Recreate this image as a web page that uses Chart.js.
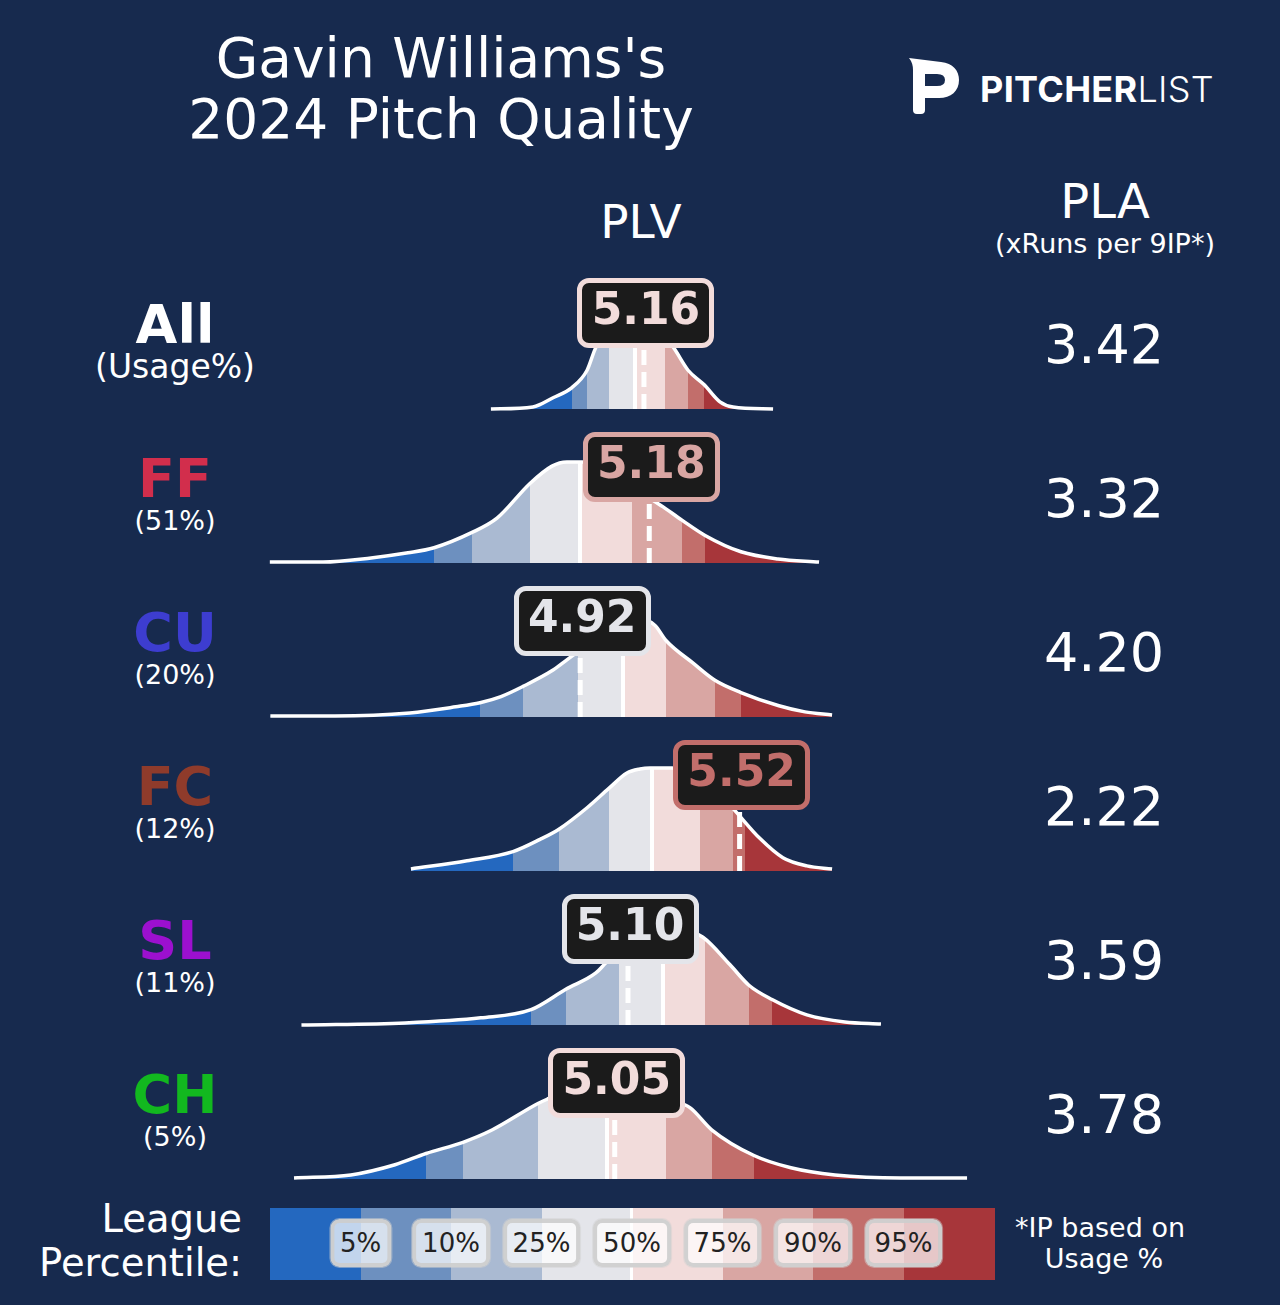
<!DOCTYPE html>
<html><head><meta charset="utf-8">
<script src="https://cdn.jsdelivr.net/npm/chart.js@4.4.1/dist/chart.umd.min.js"></script>
<style>
html,body{margin:0;padding:0;background:#172a4e;}
#root{position:relative;width:1280px;height:1305px;background:#172a4e;overflow:hidden;font-family:"DejaVu Sans",sans-serif;color:#fff;}
.t{position:absolute;white-space:nowrap;}
canvas{position:absolute;}
.box{position:absolute;box-sizing:border-box;width:137px;height:70px;border:5px solid;border-radius:12px;background:#1b1b1b;font-weight:bold;font-size:44px;line-height:52px;text-align:center;font-family:"DejaVu Sans",sans-serif;}
.lg{position:absolute;box-sizing:border-box;height:48px;border:4px solid rgba(205,205,205,0.92);border-radius:9px;background:rgba(255,255,255,0.72);color:#222;font-size:26px;line-height:40px;padding:0 6px;white-space:nowrap;box-shadow:0 0 0 1px rgba(210,210,210,0.5);}
</style></head><body><div id="root"></div>
<script>
// ---------------- data ----------------
const pitchNames = ["All","FF","CU","FC","SL","CH"];
const usageLabels = ["(Usage%)","(51%)","(20%)","(12%)","(11%)","(5%)"];
const plvValues = [5.16, 5.18, 4.92, 5.52, 5.10, 5.05];
const plaValues = ["3.42","3.32","4.20","2.22","3.59","3.78"];
const percentileLabels = ["5%","10%","25%","50%","75%","90%","95%"];

// density curves (PLV value, relative density)
const allX = [4.584,4.742,4.818,4.889,4.946,4.975,5.013,5.051,5.100,5.145,5.190,5.232,5.277,5.326,5.386,5.446,5.495,5.646];
const allY = [0.00,0.02,0.11,0.21,0.38,0.58,0.78,0.91,0.98,0.98,0.90,0.75,0.58,0.38,0.24,0.07,0.02,0.00];
const ffX = [3.752,3.952,4.133,4.272,4.370,4.513,4.607,4.731,4.814,4.870,4.927,4.994,5.070,5.145,5.232,5.303,5.390,5.525,5.664,5.819];
const ffY = [0.01,0.01,0.05,0.10,0.15,0.30,0.44,0.78,0.95,0.99,0.99,0.96,0.85,0.70,0.55,0.42,0.27,0.11,0.04,0.01];
const cuX = [3.754,3.997,4.279,4.452,4.543,4.622,4.705,4.818,4.870,4.938,5.013,5.089,5.145,5.201,5.243,5.344,5.427,5.525,5.668,5.766,5.868];
const cuY = [0.01,0.01,0.04,0.10,0.14,0.20,0.30,0.46,0.56,0.69,0.83,0.95,0.96,0.90,0.75,0.53,0.36,0.24,0.11,0.05,0.02];
const fcX = [4.283,4.494,4.667,4.769,4.840,4.946,5.028,5.096,5.145,5.183,5.265,5.333,5.390,5.446,5.510,5.596,5.683,5.773,5.868];
const fcY = [0.02,0.10,0.19,0.31,0.41,0.62,0.81,0.96,1.00,1.01,1.01,0.98,0.90,0.76,0.57,0.32,0.13,0.05,0.02];
const slX = [3.871,4.261,4.546,4.735,4.866,4.979,5.017,5.070,5.145,5.220,5.296,5.382,5.484,5.555,5.642,5.773,5.916,6.052];
const slY = [0.00,0.02,0.07,0.15,0.35,0.51,0.61,0.74,0.90,0.97,0.95,0.86,0.59,0.39,0.25,0.10,0.03,0.01];
const chX = [3.843,4.057,4.223,4.340,4.479,4.588,4.761,4.802,4.882,4.957,5.032,5.107,5.183,5.258,5.333,5.416,5.574,5.713,5.879,6.127,6.376];
const chY = [0.01,0.04,0.14,0.25,0.36,0.48,0.74,0.79,0.88,0.95,0.97,0.95,0.88,0.78,0.70,0.48,0.23,0.11,0.04,0.01,0.01];

// league percentile boundaries (5,10,25,50,75,90,95) in PLV
const allEdges = [4.889,4.946,5.028,5.126,5.239,5.326,5.386];
const ffEdges  = [4.370,4.513,4.731,4.919,5.115,5.303,5.390];
const cuEdges  = [4.543,4.705,4.912,5.081,5.243,5.427,5.525];
const fcEdges  = [4.667,4.840,5.028,5.190,5.371,5.495,5.540];
const slEdges  = [4.735,4.866,5.066,5.232,5.390,5.555,5.642];
const chEdges  = [4.340,4.479,4.761,5.021,5.243,5.416,5.574];

// ---------------- styles ----------------
const bandColors = ['#2468bf','#6d90bf','#aabad2','#e4e5ea','#f2dcdb','#d9a6a3','#c26e6b','#a7363a'];
const nameColors = ['#ffffff','#d22e4c','#3d3dd0','#8f3b2b','#9c10cf','#12b81f'];

const root = document.getElementById('root');
function txt(s, x, baseline, fs, o) {
  o = o || {};
  const d = document.createElement('div');
  d.className = 't';
  d.textContent = s;
  d.style.fontSize = fs + 'px';
  d.style.lineHeight = fs + 'px';
  if (o.family) d.style.fontFamily = o.family;
  if (o.weight) d.style.fontWeight = o.weight;
  if (o.color) d.style.color = o.color;
  const k = o.k || 0.846;
  d.style.top = (baseline - k * fs) + 'px';
  if (o.align === 'right') { d.style.right = (1280 - x) + 'px'; }
  else if (o.align === 'left') { d.style.left = x + 'px'; }
  else { d.style.left = x + 'px'; d.style.transform = 'translateX(-50%)'; }
  root.appendChild(d);
  return d;
}

// titles
txt("Gavin Williams's", 441, 78, 55);
txt("2024 Pitch Quality", 441, 139, 55);
txt("PLV", 641, 238, 47);
txt("PLA", 1105, 218, 48);
txt("(xRuns per 9IP*)", 1105, 253, 27);

// logo
const svgNS = 'http://www.w3.org/2000/svg';
const svg = document.createElementNS(svgNS, 'svg');
svg.setAttribute('width', '1280'); svg.setAttribute('height', '140');
svg.style.position = 'absolute'; svg.style.left = '0'; svg.style.top = '0';
const path = document.createElementNS(svgNS, 'path');
path.setAttribute('d', 'M909 58 L941 62 C953 63 959 71 959 80 C959 91 951 98 939 98 L925 98 L925 110 Q925 114 921 114 L917 114 Q913 114 913 110 L913 70 Q913 63 909 58 Z M925 74 L937 74 Q945 74 945 80 Q945 86 937 86 L925 86 Z');
path.setAttribute('fill', '#ffffff'); path.setAttribute('fill-rule', 'evenodd');
svg.appendChild(path);
root.appendChild(svg);
const logo = document.createElement('div');
logo.className = 't';
logo.style.left = '980px'; logo.style.top = (102 - 0.864 * 36) + 'px';
logo.style.fontFamily = 'Inter, sans-serif'; logo.style.fontSize = '36px'; logo.style.lineHeight = '36px';
logo.innerHTML = '<span style="font-weight:700;letter-spacing:0.3px">PITCHER</span><span style="font-weight:300;letter-spacing:0.3px">LIST</span>';
root.appendChild(logo);

// row labels and PLA values
pitchNames.forEach((n, i) => {
  txt(n, 175, 344 + 154 * i, 54, {weight: 'bold', color: nameColors[i]});
  if (i === 0) txt(usageLabels[i], 175, 378, 33);
  else txt(usageLabels[i], 175, 530 + 154 * (i - 1), 27);
  txt(plaValues[i], 1104, 364 + 154 * i, 54);
});

// ---------------- charts ----------------
const XMIN = 3.715, XMAX = 6.50;
function bandGradient(chart, edges) {
  const area = chart.chartArea;
  if (!area) return 'rgba(0,0,0,0)';
  const left = area.left, W = area.right - area.left;
  const xs = chart.scales.x;
  const g = chart.ctx.createLinearGradient(left, 0, area.right, 0);
  const pos = edges.map(e => Math.min(1, Math.max(0, (xs.getPixelForValue(e) - left) / W)));
  g.addColorStop(0, bandColors[0]);
  pos.forEach((p, i) => {
    if (i === 3) {
      const h = 1.9 / W;
      g.addColorStop(p - h, bandColors[3]); g.addColorStop(p - h, '#ffffff');
      g.addColorStop(p + h, '#ffffff'); g.addColorStop(p + h, bandColors[4]);
    } else {
      g.addColorStop(p, bandColors[i]); g.addColorStop(p, bandColors[i + 1]);
    }
  });
  g.addColorStop(1, bandColors[7]);
  return g;
}

const rows = [
  {x: allX, y: allY, edges: allEdges, v: plvValues[0]},
  {x: ffX, y: ffY, edges: ffEdges, v: plvValues[1]},
  {x: cuX, y: cuY, edges: cuEdges, v: plvValues[2]},
  {x: fcX, y: fcY, edges: fcEdges, v: plvValues[3]},
  {x: slX, y: slY, edges: slEdges, v: plvValues[4]},
  {x: chX, y: chY, edges: chEdges, v: plvValues[5]}
];

rows.forEach((r, i) => {
  const base = 409 + 154 * i;
  const top = base - 140;
  const cv = document.createElement('canvas');
  cv.width = 740; cv.height = 150;
  cv.style.width = '740px'; cv.style.height = '150px';
  cv.style.left = '260px'; cv.style.top = top + 'px';
  root.appendChild(cv);
  const pts = r.x.map((xv, j) => ({x: xv, y: r.y[j]}));
  const chart = new Chart(cv, {
    type: 'line',
    data: {datasets: [
      {data: [{x: r.v, y: 0}, {x: r.v, y: 0.75}], borderColor: '#ffffff', borderWidth: 5,
       borderDash: [15, 7], borderCapStyle: 'butt', pointRadius: 0, fill: false, clip: false},
      {data: pts, borderColor: '#ffffff', borderWidth: 3.5, pointRadius: 0, fill: 'origin',
       cubicInterpolationMode: 'monotone', clip: false,
       backgroundColor: (ctx) => bandGradient(ctx.chart, r.edges)}
    ]},
    options: {
      responsive: false, animation: false, events: [],
      layout: {padding: {top: 0, bottom: 10, left: 0, right: 0}},
      plugins: {legend: {display: false}, tooltip: {enabled: false}},
      scales: {
        x: {type: 'linear', min: XMIN, max: XMAX, display: false},
        y: {min: 0, max: 1.3725, display: false}
      }
    }
  });
  // value label box
  let idx = 0;
  r.edges.forEach(e => { if (r.v > e) idx++; });
  const col = bandColors[idx];
  const px = chart.scales.x.getPixelForValue(r.v) + 260;
  const py = chart.scales.y.getPixelForValue(0.94) + top;
  const b = document.createElement('div');
  b.className = 'box';
  b.textContent = r.v.toFixed(2);
  b.style.borderColor = col; b.style.color = col;
  b.style.left = (px + 2 - 68.5) + 'px';
  b.style.top = (py - 35) + 'px';
  root.appendChild(b);
});

// ---------------- legend ----------------
const segW = (994 - 270) / 8;
bandColors.forEach((c, i) => {
  const d = document.createElement('div');
  d.style.position = 'absolute';
  d.style.left = (270 + i * segW) + 'px'; d.style.top = '1208px';
  d.style.width = (segW + 0.5) + 'px'; d.style.height = '72px';
  d.style.background = c;
  root.appendChild(d);
});
const wl = document.createElement('div');
wl.style.cssText = 'position:absolute;left:629.5px;top:1208px;width:3px;height:72px;background:#fff;';
root.appendChild(wl);
percentileLabels.forEach((p, i) => {
  const d = document.createElement('div');
  d.className = 'lg';
  d.textContent = p;
  d.style.left = (270 + (i + 1) * segW) + 'px';
  d.style.top = '1219px';
  d.style.transform = 'translateX(-50%)';
  root.appendChild(d);
});
txt("League", 242, 1233, 38.5, {align: 'right'});
txt("Percentile:", 242, 1277, 38.5, {align: 'right'});
txt("*IP based on", 1100, 1237, 27);
txt("Usage %", 1104, 1268, 27);
</script></body></html>
